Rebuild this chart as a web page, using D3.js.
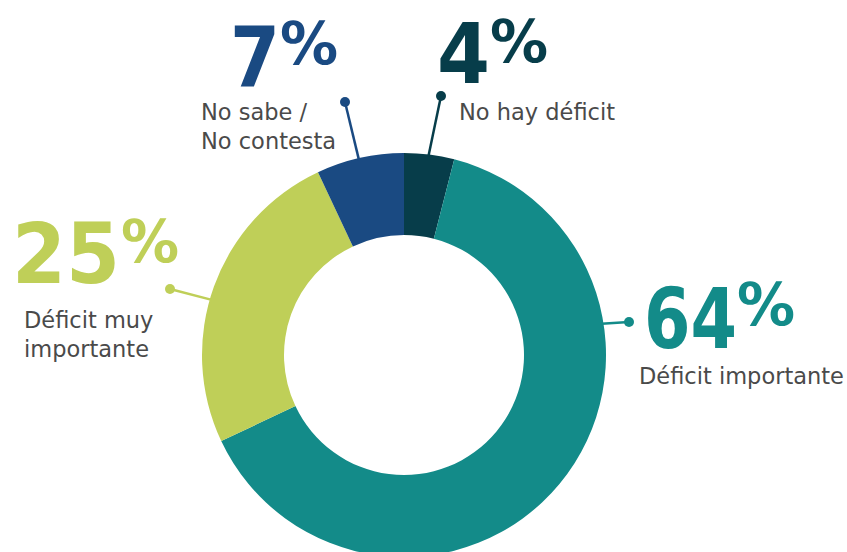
<!DOCTYPE html>
<html>
<head>
<meta charset="utf-8">
<script src="https://cdn.jsdelivr.net/npm/d3@7"></script>
<style>
  body { margin: 0; background: #fff; }
  svg { display: block; }
</style>
</head>
<body>
<div id="chart"></div>
<script>
// data
var categories = ["No hay déficit", "Déficit importante", "Déficit muy importante", "No sabe / No contesta"];
var values = [4, 64, 25, 7];
var colors = ["#073d4a", "#138b89", "#bfcf58", "#1a4a82"];

// label layout (not data): dot position, angle where leader touches ring, text spots
var layout = [
  {dot: [441, 96], anchor: 7, pct: [437, 83], w: 53, pctSign: [490, 62], lines: ["No hay déficit"], lx: 459, ly: 120},
  {dot: [629, 322], anchor: 81, pct: [644, 348], w: 93, pctSign: [737, 325], lines: ["Déficit importante"], lx: 639, ly: 384},
  {dot: [170, 289], anchor: 286, pct: [12, 283], w: 108, pctSign: [121, 262], lines: ["Déficit muy", "importante"], lx: 24, ly: 328},
  {dot: [345, 102], anchor: 347, pct: [230, 87], w: 50, pctSign: [280, 64], lines: ["No sabe /", "No contesta"], lx: 201, ly: 120}
];

var width = 847, height = 552;
var cx = 404, cy = 355, outerR = 202, innerR = 120;

var svg = d3.select("#chart").append("svg")
  .attr("width", width)
  .attr("height", height);

var pie = d3.pie().sort(null).value(function(d) { return d; });
var arc = d3.arc().innerRadius(innerR).outerRadius(outerR);

var g = svg.append("g").attr("transform", "translate(" + cx + "," + cy + ")");

g.selectAll("path")
  .data(pie(values))
  .enter()
  .append("path")
    .attr("d", arc)
    .attr("fill", function(d, i) { return colors[i]; });

// leader lines + dots
function ringPoint(deg) {
  var a = deg * Math.PI / 180;
  return [cx + (outerR - 2) * Math.sin(a), cy - (outerR - 2) * Math.cos(a)];
}

layout.forEach(function(l, i) {
  var p = ringPoint(l.anchor);
  svg.append("line")
    .attr("x1", p[0]).attr("y1", p[1])
    .attr("x2", l.dot[0]).attr("y2", l.dot[1])
    .attr("stroke", colors[i])
    .attr("stroke-width", 2.5);
  svg.append("circle")
    .attr("cx", l.dot[0]).attr("cy", l.dot[1])
    .attr("r", 5)
    .attr("fill", colors[i]);

  // big number with raised percent sign
  var num = svg.append("text")
    .attr("font-family", "DejaVu Sans, sans-serif")
    .attr("font-weight", "bold")
    .attr("fill", colors[i]);
  num.append("tspan")
    .attr("x", l.pct[0]).attr("y", l.pct[1])
    .attr("font-size", 84)
    .attr("textLength", l.w)
    .attr("lengthAdjust", "spacingAndGlyphs")
    .text(values[i]);
  num.append("tspan")
    .attr("x", l.pctSign[0]).attr("y", l.pctSign[1])
    .attr("font-size", 58)
    .text("%");

  // category label
  var t = svg.append("text")
    .attr("font-family", "DejaVu Sans, sans-serif")
    .attr("font-size", 22.5)
    .attr("fill", "#4a4a4a");
  l.lines.forEach(function(s, j) {
    t.append("tspan")
      .attr("x", l.lx)
      .attr("y", l.ly + j * 29)
      .text(s);
  });
});
</script>
</body>
</html>
